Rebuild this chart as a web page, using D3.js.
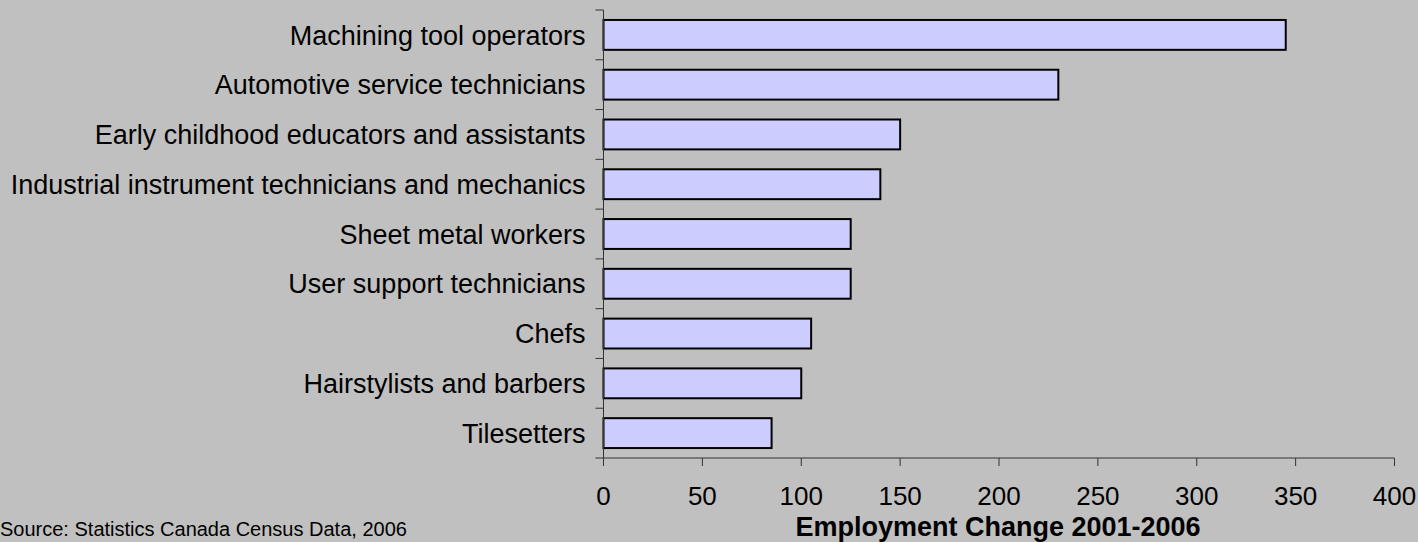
<!DOCTYPE html>
<html>
<head>
<meta charset="utf-8">
<script src="https://cdn.jsdelivr.net/npm/d3@7"></script>
<style>
  html, body { margin: 0; padding: 0; background: #c0c0c0; }
  svg { display: block; font-family: "Liberation Sans", Arial, sans-serif; }
</style>
</head>
<body>
<div id="chart"></div>
<script>
// chart data
const occupations = [
    'Machining tool operators',
    'Automotive service technicians',
    'Early childhood educators and assistants',
    'Industrial instrument technicians and mechanics',
    'Sheet metal workers',
    'User support technicians',
    'Chefs',
    'Hairstylists and barbers',
    'Tilesetters'
];
const employmentChange = [345, 230, 150, 140, 125, 125, 105, 100, 85];
const xTicks = [0, 50, 100, 150, 200, 250, 300, 350, 400];
const xTitle = 'Employment Change 2001-2006';
const sourceNote = 'Source: Statistics Canada Census Data, 2006';

document.addEventListener('DOMContentLoaded', () => {
    const width = 1418;
    const height = 542;
    const margin = { top: 10, right: 24, bottom: 84, left: 603.5 };

    const svg = d3.select('#chart').append('svg')
        .attr('width', width)
        .attr('height', height);

    svg.append('rect')
        .attr('width', width)
        .attr('height', height)
        .attr('fill', '#c0c0c0');

    const x = d3.scaleLinear()
        .domain([0, 400])
        .range([margin.left, margin.left + 791]);

    const y = d3.scaleBand()
        .domain(occupations)
        .range([margin.top, height - margin.bottom])
        .paddingInner(0.4)
        .paddingOuter(0.2);

    const rows = occupations.map((name, i) => ({ name, value: employmentChange[i] }));
    const axisY = height - margin.bottom;

    // bars
    svg.append('g')
        .selectAll('rect')
        .data(rows)
        .enter()
        .append('rect')
        .attr('x', x(0))
        .attr('y', (d) => y(d.name))
        .attr('width', (d) => x(d.value) - x(0))
        .attr('height', y.bandwidth())
        .attr('fill', '#ccccff')
        .attr('stroke', '#000')
        .attr('stroke-width', 2);

    // category axis: line, ticks at band edges, labels
    const yAxis = svg.append('g');
    yAxis.append('line')
        .attr('x1', x(0)).attr('x2', x(0))
        .attr('y1', margin.top).attr('y2', axisY)
        .attr('stroke', '#333').attr('stroke-width', 1);

    const edges = d3.range(occupations.length + 1).map((i) => margin.top + i * y.step());
    yAxis.selectAll('line.edge')
        .data(edges)
        .enter()
        .append('line')
        .attr('class', 'edge')
        .attr('x1', x(0) - 8).attr('x2', x(0))
        .attr('y1', (d) => d).attr('y2', (d) => d)
        .attr('stroke', '#333').attr('stroke-width', 1);

    yAxis.selectAll('text')
        .data(occupations)
        .enter()
        .append('text')
        .attr('x', x(0) - 18)
        .attr('y', (d) => y(d) + y.bandwidth() / 2)
        .attr('dy', '0.36em')
        .attr('text-anchor', 'end')
        .attr('font-size', 27)
        .attr('fill', '#000')
        .text((d) => d);

    // value axis
    const xAxis = svg.append('g');
    xAxis.append('line')
        .attr('x1', x(0)).attr('x2', x(400))
        .attr('y1', axisY).attr('y2', axisY)
        .attr('stroke', '#333').attr('stroke-width', 1);

    xAxis.selectAll('line.tick')
        .data(xTicks)
        .enter()
        .append('line')
        .attr('class', 'tick')
        .attr('x1', (d) => x(d)).attr('x2', (d) => x(d))
        .attr('y1', axisY).attr('y2', axisY + 8)
        .attr('stroke', '#333').attr('stroke-width', 1);

    xAxis.selectAll('text')
        .data(xTicks)
        .enter()
        .append('text')
        .attr('x', (d) => x(d))
        .attr('y', axisY + 47)
        .attr('text-anchor', 'middle')
        .attr('font-size', 26)
        .attr('fill', '#000')
        .text((d) => d);

    svg.append('text')
        .attr('x', 998)
        .attr('y', 536)
        .attr('text-anchor', 'middle')
        .attr('font-size', 27)
        .attr('font-weight', 'bold')
        .attr('fill', '#000')
        .text(xTitle);

    svg.append('text')
        .attr('x', 0)
        .attr('y', 536)
        .attr('font-size', 20)
        .attr('fill', '#000')
        .text(sourceNote);
});
</script>
</body>
</html>
